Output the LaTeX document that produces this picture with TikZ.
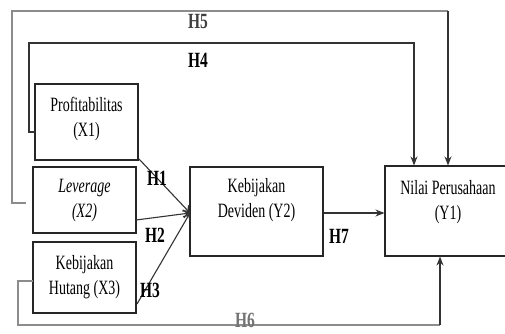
\documentclass[tikz,border=0pt]{standalone}
\usepackage{fontspec}
\setmainfont{Liberation Serif}
\usepackage{graphicx}
\usetikzlibrary{arrows.meta}
\newcommand{\vtxt}[1]{\scalebox{1}[1.45]{\renewcommand{\arraystretch}{1.1}\begin{tabular}{@{}c@{}}#1\end{tabular}}}
\newcommand{\hlab}[1]{\scalebox{1}[1.4]{\bfseries #1}}
\begin{document}
\begin{tikzpicture}[x=1pt,y=-1pt,
  box/.style={draw=black!85,line width=1.1pt,inner sep=0pt},
  txt/.style={inner sep=0pt,font=\fontsize{14}{16}\selectfont},
  hl/.style={inner sep=0pt,font=\fontsize{15.5}{17}\selectfont},
  conn/.style={draw=black!80,line width=1.1pt},
  lite/.style={draw=black!45,line width=1.1pt},
  arr/.style={-{Stealth[length=9pt,width=7pt]}},
  conv/.style={-{To[length=7pt,width=9pt]}}]
\useasboundingbox (0,0) rectangle (505,333);
\clip (0,0) rectangle (505,333);
\fill[white] (0,0) rectangle (505,333);

% boxes
\node[box,minimum width=103pt,minimum height=76pt] (x1) at (86.5,122) {};
\node[box,minimum width=103pt,minimum height=66pt] (x2) at (84.5,200) {};
\node[box,minimum width=103pt,minimum height=71pt] (x3) at (84.5,277.5) {};
\node[box,minimum width=133pt,minimum height=89pt] (y2) at (256.5,211.5) {};
\node[box,minimum width=126pt,minimum height=90pt] (y1) at (448,211) {};

% texts
\node[txt] (t1) at (86.5,119) {\vtxt{Profitabilitas\\(X1)}};
\node[txt] (t2) at (84.5,200) {\vtxt{\itshape Leverage\\\itshape (X2)}};
\node[txt] (t3) at (84.5,277) {\vtxt{Kebijakan\\Hutang (X3)}};
\node[txt] (t4) at (256.5,200) {\vtxt{Kebijakan\\Deviden (Y2)}};
\node[txt] (t5) at (448,202) {\vtxt{Nilai Perusahaan\\(Y1)}};

% convergence point
\coordinate (cv) at (190,213);
\coordinate (s1) at (139,159);
\coordinate (s2) at (136,220);
\coordinate (s3) at (137,304);
\draw[conn,conv] (s1) -- (cv);
\draw[conn,conv] (s2) -- (cv);
\draw[conn,conv] (s3) -- (cv);

% H7
\draw[conn,arr] (y2.east |- 0,213) -- (y1.west |- 0,213);

% H4
\coordinate (h4a) at (35,132);
\coordinate (h4b) at (29,132);
\coordinate (h4c) at (29,43);
\coordinate (h4d) at (414,43);
\draw[conn,arr] (h4a) -- (h4b) -- (h4c) -- (h4d) -- (y1.north -| h4d);

% H5
\coordinate (h5a) at (26,203);
\coordinate (h5b) at (12,203);
\coordinate (h5c) at (12,11);
\coordinate (h5d) at (448,11);
\draw[lite] (h5a) -- (h5b) -- (h5c) -- (h5d);
\draw[conn,arr] (h5d) -- (y1.north -| h5d);

% H6
\coordinate (h6a) at (33,281);
\coordinate (h6b) at (18,281);
\coordinate (h6c) at (18,325);
\coordinate (h6d) at (440,325);
\draw[lite] (h6a) -- (h6b) -- (h6c) -- (h6d);
\draw[conn,arr] (h6d) -- (y1.south -| h6d);

% labels
\node[hl,text=black!75] (l5) at (198,21) {\hlab{H5}};
\node[hl] (l4) at (198,60) {\hlab{H4}};
\node[hl] (l1) at (157,178) {\hlab{H1}};
\node[hl] (l2) at (155,235) {\hlab{H2}};
\node[hl] (l3) at (150,290) {\hlab{H3}};
\node[hl] (l7) at (339,236) {\hlab{H7}};
\node[hl,text=black!55] (l6) at (245,320) {\hlab{H6}};
\end{tikzpicture}
\end{document}
